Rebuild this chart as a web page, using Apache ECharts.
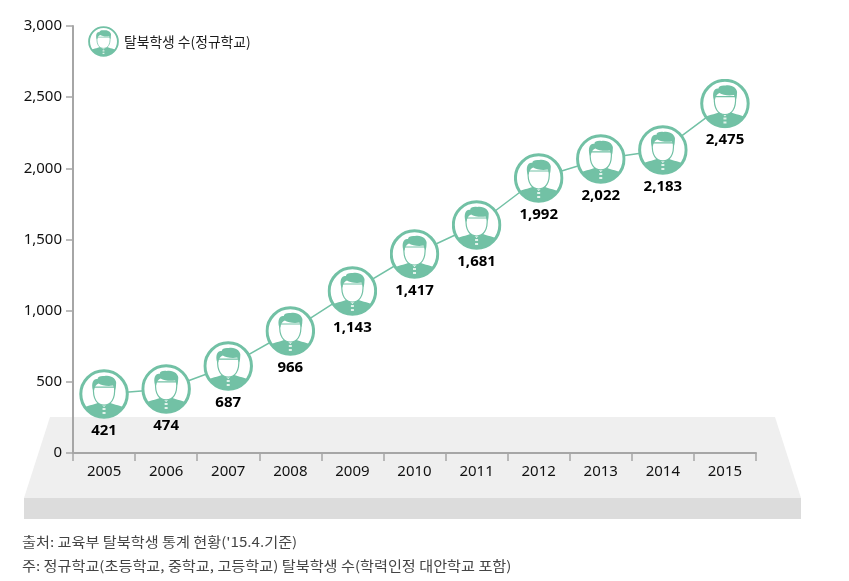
<!DOCTYPE html>
<html><head><meta charset="utf-8">
<style>html,body{margin:0;padding:0;background:#fff}#c{width:849px;height:581px}</style>
<script src="https://cdn.jsdelivr.net/npm/echarts@6/dist/echarts.min.js"></script>
</head><body><div id="c"></div>
<script>
const years = ['2005','2006','2007','2008','2009','2010','2011','2012','2013','2014','2015'];
// values printed under each icon
const printedValues = [421,474,687,966,1143,1417,1681,1992,2022,2183,2475];
// height of each icon's centre as read against the y axis (the picture places icons loosely)
const iconHeights = [414,450,611,857,1138,1398,1602,1932,2066,2129,2455];
const yTicks = [0,500,1000,1500,2000,2500,3000];
const seriesName = '탈북학생 수(정규학교)';
const notes = ["출처: 교육부 탈북학생 통계 현황('15.4.기준)", '주: 정규학교(초등학교, 중학교, 고등학교) 탈북학생 수(학력인정 대안학교 포함)'];

const G = '#72c1a5';
const svg = `<svg xmlns="http://www.w3.org/2000/svg" width="200" height="200" viewBox="0 0 100 100"><defs><clipPath id="k"><circle cx="50" cy="50" r="46"/></clipPath></defs><circle cx="50" cy="50" r="46.5" fill="#fff" stroke="${G}" stroke-width="6"/><g clip-path="url(#k)"><path d="M6 100V80C14 72 30 73 40 66L50 76L60 66C70 73 86 72 94 80V100Z" fill="${G}"/><path d="M47 78h6v4h-6zM47 86h6v4h-6z" fill="#e3f3ec"/></g><path d="M29 36C27 61 37 72 50 72C63 72 73 61 71 36Z" fill="#fff" stroke="${G}" stroke-width="2.4"/><path d="M28 43C23 27 30 18 37 20C37 15 44 13 51 14C63 11 77 20 74 31C74 36 73 40 72 43L68 33C58 35 45 33 39 29C34 31 31 36 30 43Z" fill="${G}"/></svg>`;
const icon = 'image://data:image/svg+xml;charset=utf-8,' + encodeURIComponent(svg);

const axisFont = '"Noto Sans", sans-serif';
const noteFont = '"Noto Sans CJK KR"';
const chart = echarts.init(document.getElementById('c'), null, {renderer:'canvas'});
chart.setOption({
  animation:false,
  backgroundColor:'#fff',
  grid:{left:73,right:93,top:26,bottom:128,containLabel:false},
  legend:{
    left:83,top:21,itemWidth:31,itemHeight:31,itemGap:2,
    data:[{name:seriesName,icon:icon}],
    textStyle:{fontFamily:'"Noto Sans CJK KR"',fontSize:13.8,color:'#1a1a1a',padding:[0,0,0,0]}
  },
  xAxis:{
    type:'category',data:years,boundaryGap:true,
    axisLine:{lineStyle:{color:'#a6a6a6',width:2}},
    axisTick:{show:true,length:8,lineStyle:{color:'#a6a6a6',width:1.5}},
    axisLabel:{fontFamily:axisFont,fontSize:15,color:'#111',margin:11,interval:0}
  },
  yAxis:{
    type:'value',min:0,max:3000,interval:500,
    splitLine:{show:false},
    axisLine:{show:true,lineStyle:{color:'#a6a6a6',width:2}},
    axisTick:{show:true,length:7,lineStyle:{color:'#a6a6a6',width:1.5}},
    axisLabel:{fontFamily:axisFont,fontSize:15,color:'#111',margin:11,
      formatter:v=>yTicks.includes(v)?v.toLocaleString('en-US'):''}
  },
  series:[{
    name:seriesName,type:'line',z:5,
    data:iconHeights,
    symbol:icon,symbolSize:50,showSymbol:true,
    lineStyle:{color:G,width:1.5},
    itemStyle:{color:G},
    label:{show:true,position:'bottom',distance:4,fontFamily:axisFont,fontWeight:'bold',fontSize:15,color:'#000',
      formatter:p=>printedValues[p.dataIndex].toLocaleString('en-US')}
  }],
  graphic:[
    {type:'polygon',z:-10,silent:true,shape:{points:[[50,417],[775,417],[801,498],[24,498]]},style:{fill:'#efefef'}},
    {type:'rect',z:-10,silent:true,shape:{x:24,y:498,width:777,height:21},style:{fill:'#dcdcdc'}},
    {type:'text',x:22,y:535,scaleX:1.15,style:{text:notes[0],fontFamily:noteFont,fontSize:13.2,fill:'#444'}},
    {type:'text',x:22,y:559,scaleX:1.15,style:{text:notes[1],fontFamily:noteFont,fontSize:13.2,fill:'#444'}}
  ]
});
</script></body></html>
